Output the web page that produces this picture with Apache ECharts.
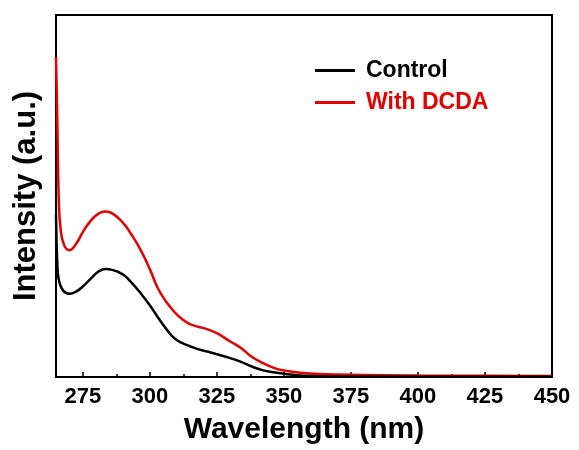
<!DOCTYPE html>
<html>
<head>
<meta charset="utf-8">
<script src="https://cdn.jsdelivr.net/npm/echarts@6/dist/echarts.min.js"></script>
<style>html,body{margin:0;padding:0;background:#fff}#c{width:579px;height:450px}</style>
</head>
<body>
<div id="c"></div>
<script>
var xTicks = [275, 300, 325, 350, 375, 400, 425, 450];
var xMinorTicks = [287.5, 312.5, 337.5, 362.5, 387.5, 412.5, 437.5];

var controlX = [265.0, 265.5, 266.0, 267.0, 268.5, 270, 272.5, 275, 278, 281, 283.5, 286, 290, 293, 296.5, 300, 303, 306, 309, 312, 315, 318, 321, 325, 330, 334, 338, 342, 346, 350, 356, 370, 400, 450];
var controlY = [44.8, 31.0, 27.0, 24.7, 23.3, 23.0, 23.6, 25.0, 27.2, 29.2, 29.8, 29.6, 28.3, 26.2, 23.2, 19.8, 16.5, 13.4, 10.8, 9.4, 8.5, 7.7, 7.1, 6.3, 5.2, 4.2, 2.9, 1.9, 1.3, 0.9, 0.4, 0.15, 0.1, 0.05];

var dcdaX = [265.0, 265.5, 266.0, 266.7, 268, 270, 272.5, 275, 278, 281, 283.5, 286, 290, 293, 296.5, 300, 303, 306, 309, 312, 315, 318, 321, 325, 330, 334, 338, 342, 346, 350, 356, 362, 375, 400, 450];
var dcdaY = [88.4, 70.0, 50.0, 41.0, 36.5, 35.0, 36.8, 40.0, 43.2, 45.2, 45.7, 45.2, 42.6, 39.5, 35.2, 29.8, 24.5, 20.9, 18.1, 16.0, 14.6, 13.9, 13.3, 12.1, 9.8, 8.0, 5.6, 3.9, 2.6, 1.8, 1.2, 0.9, 0.6, 0.4, 0.3];

function pairs(xs, ys) { return xs.map(function (x, i) { return [x, ys[i]]; }); }

var FONT = 'Liberation Sans, Arial, sans-serif';
var chart = echarts.init(document.getElementById('c'), null, {renderer: 'canvas'});
chart.setOption({
  animation: false,
  backgroundColor: '#fff',
  grid: {left: 56, right: 27, top: 15, bottom: 72.5, show: true, borderColor: '#000', borderWidth: 2, backgroundColor: 'transparent'},
  legend: {
    orient: 'vertical', left: 315, top: 59, padding: 0, itemWidth: 40, itemHeight: 3, itemGap: 9,
    icon: 'rect',
    textStyle: {fontFamily: FONT, fontWeight: 'bold', fontSize: 23, padding: [0, 0, 0, 6]},
    data: [
      {name: 'Control', textStyle: {color: '#000'}},
      {name: 'With DCDA', textStyle: {color: '#e60000'}}
    ]
  },
  xAxis: [{
    type: 'value', min: 265, max: 450,
    name: 'Wavelength (nm)', nameLocation: 'middle', nameGap: 38,
    nameTextStyle: {fontFamily: FONT, fontWeight: 'bold', fontSize: 30, color: '#000'},
    axisLine: {show: true, lineStyle: {color: '#000', width: 2}},
    axisTick: {show: true, inside: true, length: 5, lineStyle: {color: '#000', width: 1.5}, customValues: xTicks},
    axisLabel: {show: true, margin: 9, fontFamily: FONT, fontWeight: 'bold', fontSize: 22, color: '#000', customValues: xTicks},
    splitLine: {show: false}
  }, {
    type: 'value', min: 265, max: 450, position: 'bottom',
    axisLine: {show: false},
    axisTick: {show: true, inside: true, length: 3, lineStyle: {color: '#000', width: 1.5}, customValues: xMinorTicks},
    axisLabel: {show: false, customValues: xMinorTicks},
    splitLine: {show: false}
  }],
  yAxis: {
    type: 'value', min: 0, max: 100,
    name: 'Intensity (a.u.)', nameLocation: 'middle', nameGap: 14,
    nameTextStyle: {fontFamily: FONT, fontWeight: 'bold', fontSize: 31, color: '#000'},
    axisLine: {show: true, lineStyle: {color: '#000', width: 2}},
    axisTick: {show: false}, axisLabel: {show: false}, splitLine: {show: false}
  },
  series: [
    {name: 'Control', type: 'line', data: pairs(controlX, controlY), smooth: 0.5, showSymbol: false, symbol: 'none',
     lineStyle: {color: '#000', width: 2.5}, itemStyle: {color: '#000'}, z: 3},
    {name: 'With DCDA', type: 'line', data: pairs(dcdaX, dcdaY), smooth: 0.5, showSymbol: false, symbol: 'none',
     lineStyle: {color: '#e60000', width: 2.5}, itemStyle: {color: '#e60000'}, z: 2}
  ]
});
</script>
</body>
</html>
